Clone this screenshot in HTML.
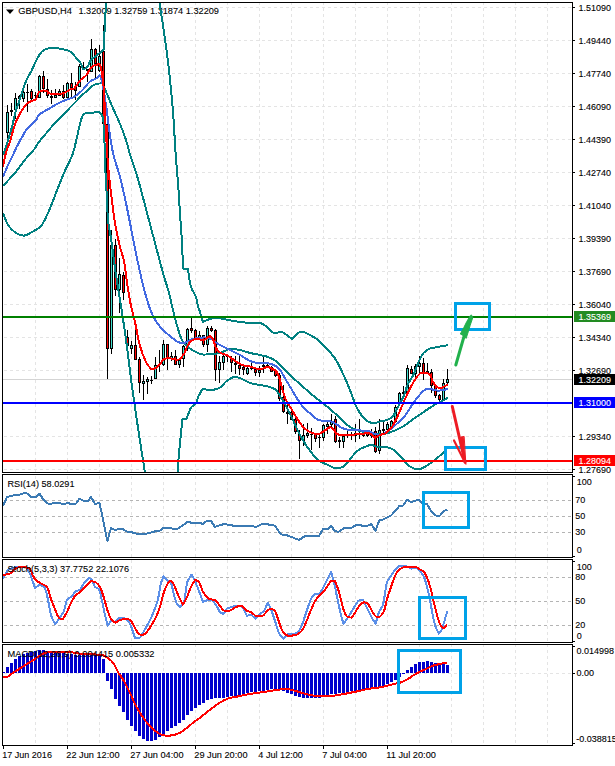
<!DOCTYPE html>
<html><head><meta charset="utf-8"><title>GBPUSD,H4</title>
<style>html,body{margin:0;padding:0;background:#fff}body{width:615px;height:766px;overflow:hidden}svg{display:block}text{font-family:"Liberation Sans",sans-serif;font-size:9px;fill:#000;stroke:#000;stroke-width:0.1px}.w{fill:#fff;stroke:#fff}</style></head><body>
<svg width="615" height="766" viewBox="0 0 615 766">
<rect width="615" height="766" fill="#fff"/>
<defs>
<clipPath id="c0"><rect x="3" y="3" width="569" height="469"/></clipPath>
<clipPath id="c1"><rect x="3" y="475" width="569" height="82"/></clipPath>
<clipPath id="c2"><rect x="3" y="560" width="569" height="82"/></clipPath>
<clipPath id="c3"><rect x="3" y="645" width="569" height="100"/></clipPath>
</defs>
<g stroke="#e4e4e4" stroke-width="1" stroke-dasharray="3 3" shape-rendering="crispEdges">
<line x1="35.5" y1="2" x2="35.5" y2="745"/>
<line x1="67.5" y1="2" x2="67.5" y2="745"/>
<line x1="99.5" y1="2" x2="99.5" y2="745"/>
<line x1="131.5" y1="2" x2="131.5" y2="745"/>
<line x1="163.5" y1="2" x2="163.5" y2="745"/>
<line x1="195.5" y1="2" x2="195.5" y2="745"/>
<line x1="227.5" y1="2" x2="227.5" y2="745"/>
<line x1="259.5" y1="2" x2="259.5" y2="745"/>
<line x1="291.5" y1="2" x2="291.5" y2="745"/>
<line x1="323.5" y1="2" x2="323.5" y2="745"/>
<line x1="355.5" y1="2" x2="355.5" y2="745"/>
<line x1="387.5" y1="2" x2="387.5" y2="745"/>
<line x1="419.5" y1="2" x2="419.5" y2="745"/>
<line x1="451.5" y1="2" x2="451.5" y2="745"/>
<line x1="483.5" y1="2" x2="483.5" y2="745"/>
<line x1="515.5" y1="2" x2="515.5" y2="745"/>
<line x1="547.5" y1="2" x2="547.5" y2="745"/>
<line x1="4" y1="7.5" x2="572" y2="7.5"/>
<line x1="4" y1="40.5" x2="572" y2="40.5"/>
<line x1="4" y1="73.5" x2="572" y2="73.5"/>
<line x1="4" y1="106.5" x2="572" y2="106.5"/>
<line x1="4" y1="139.5" x2="572" y2="139.5"/>
<line x1="4" y1="172.5" x2="572" y2="172.5"/>
<line x1="4" y1="205.5" x2="572" y2="205.5"/>
<line x1="4" y1="238.5" x2="572" y2="238.5"/>
<line x1="4" y1="271.5" x2="572" y2="271.5"/>
<line x1="4" y1="304.5" x2="572" y2="304.5"/>
<line x1="4" y1="337.5" x2="572" y2="337.5"/>
<line x1="4" y1="370.5" x2="572" y2="370.5"/>
<line x1="4" y1="403.5" x2="572" y2="403.5"/>
<line x1="4" y1="436.5" x2="572" y2="436.5"/>
<line x1="4" y1="469.5" x2="572" y2="469.5"/>
<line x1="4" y1="673.5" x2="572" y2="673.5"/>
</g>
<g stroke="#b4b4b4" stroke-width="1" stroke-dasharray="3 3" shape-rendering="crispEdges">
<line x1="4" y1="500.5" x2="572" y2="500.5"/>
<line x1="4" y1="516.5" x2="572" y2="516.5"/>
<line x1="4" y1="532.5" x2="572" y2="532.5"/>
<line x1="4" y1="577.5" x2="572" y2="577.5"/>
<line x1="4" y1="601.5" x2="572" y2="601.5"/>
<line x1="4" y1="625.5" x2="572" y2="625.5"/>
</g>
<path d="M6 9.5h8l-4 4.5z" fill="#000"/>
<text x="18.2" y="14" textLength="53.8" lengthAdjust="spacingAndGlyphs" style="font-size:9.4px">GBPUSD,H4</text>
<text x="78.4" y="14" textLength="140.6" lengthAdjust="spacingAndGlyphs" style="font-size:9.4px">1.32009 1.32759 1.31874 1.32209</text>
<g clip-path="url(#c0)">
<rect x="3" y="379" width="569" height="1" fill="#d4d4d4"/>
<g shape-rendering="crispEdges">
<rect x="7" y="105" width="1" height="33" fill="#000"/>
<rect x="6" y="112" width="3" height="21" fill="#000"/>
<rect x="7" y="113" width="1" height="19" fill="#40e0d0"/>
<rect x="11" y="103" width="1" height="13" fill="#000"/>
<rect x="10" y="110" width="3" height="2" fill="#000"/>
<rect x="15" y="93" width="1" height="26" fill="#000"/>
<rect x="14" y="98" width="3" height="12" fill="#000"/>
<rect x="15" y="99" width="1" height="10" fill="#40e0d0"/>
<rect x="19" y="95" width="1" height="14" fill="#000"/>
<rect x="18" y="96" width="3" height="3" fill="#000"/>
<rect x="19" y="97" width="1" height="1" fill="#40e0d0"/>
<rect x="23" y="86" width="1" height="16" fill="#000"/>
<rect x="22" y="92" width="3" height="7" fill="#000"/>
<rect x="23" y="93" width="1" height="5" fill="#40e0d0"/>
<rect x="27" y="84" width="1" height="28" fill="#000"/>
<rect x="26" y="92" width="3" height="1" fill="#000"/>
<rect x="31" y="89" width="1" height="11" fill="#000"/>
<rect x="30" y="91" width="3" height="8" fill="#000"/>
<rect x="31" y="92" width="1" height="6" fill="#ff0000"/>
<rect x="35" y="92" width="1" height="6" fill="#000"/>
<rect x="34" y="95" width="3" height="1" fill="#000"/>
<rect x="39" y="75" width="1" height="23" fill="#000"/>
<rect x="38" y="76" width="3" height="22" fill="#000"/>
<rect x="39" y="77" width="1" height="20" fill="#40e0d0"/>
<rect x="43" y="71" width="1" height="22" fill="#000"/>
<rect x="42" y="76" width="3" height="13" fill="#000"/>
<rect x="43" y="77" width="1" height="11" fill="#ff0000"/>
<rect x="47" y="79" width="1" height="19" fill="#000"/>
<rect x="46" y="89" width="3" height="7" fill="#000"/>
<rect x="47" y="90" width="1" height="5" fill="#ff0000"/>
<rect x="51" y="90" width="1" height="14" fill="#000"/>
<rect x="50" y="96" width="3" height="2" fill="#000"/>
<rect x="55" y="89" width="1" height="9" fill="#000"/>
<rect x="54" y="95" width="3" height="3" fill="#000"/>
<rect x="55" y="96" width="1" height="1" fill="#40e0d0"/>
<rect x="59" y="89" width="1" height="7" fill="#000"/>
<rect x="58" y="91" width="3" height="5" fill="#000"/>
<rect x="59" y="92" width="1" height="3" fill="#40e0d0"/>
<rect x="63" y="85" width="1" height="14" fill="#000"/>
<rect x="62" y="91" width="3" height="7" fill="#000"/>
<rect x="63" y="92" width="1" height="5" fill="#ff0000"/>
<rect x="67" y="82" width="1" height="17" fill="#000"/>
<rect x="66" y="83" width="3" height="15" fill="#000"/>
<rect x="67" y="84" width="1" height="13" fill="#40e0d0"/>
<rect x="71" y="73" width="1" height="25" fill="#000"/>
<rect x="70" y="83" width="3" height="5" fill="#000"/>
<rect x="71" y="84" width="1" height="3" fill="#ff0000"/>
<rect x="75" y="82" width="1" height="18" fill="#000"/>
<rect x="74" y="87" width="3" height="4" fill="#000"/>
<rect x="75" y="88" width="1" height="2" fill="#ff0000"/>
<rect x="79" y="64" width="1" height="23" fill="#000"/>
<rect x="78" y="66" width="3" height="21" fill="#000"/>
<rect x="79" y="67" width="1" height="19" fill="#40e0d0"/>
<rect x="83" y="62" width="1" height="8" fill="#000"/>
<rect x="82" y="67" width="3" height="1" fill="#000"/>
<rect x="87" y="69" width="1" height="13" fill="#000"/>
<rect x="86" y="69" width="3" height="2" fill="#000"/>
<rect x="91" y="39" width="1" height="33" fill="#000"/>
<rect x="90" y="49" width="3" height="23" fill="#000"/>
<rect x="91" y="50" width="1" height="21" fill="#40e0d0"/>
<rect x="95" y="48" width="1" height="30" fill="#000"/>
<rect x="94" y="49" width="3" height="15" fill="#000"/>
<rect x="95" y="50" width="1" height="13" fill="#ff0000"/>
<rect x="99" y="45" width="1" height="27" fill="#000"/>
<rect x="98" y="56" width="3" height="15" fill="#000"/>
<rect x="99" y="57" width="1" height="13" fill="#40e0d0"/>
<rect x="103" y="25" width="1" height="103" fill="#000"/>
<rect x="102" y="51" width="3" height="73" fill="#000"/>
<rect x="103" y="52" width="1" height="71" fill="#ff0000"/>
<rect x="107" y="120" width="1" height="259" fill="#000"/>
<rect x="106" y="124" width="3" height="225" fill="#000"/>
<rect x="107" y="125" width="1" height="223" fill="#ff0000"/>
<rect x="111" y="230" width="1" height="124" fill="#000"/>
<rect x="110" y="245" width="3" height="104" fill="#000"/>
<rect x="111" y="246" width="1" height="102" fill="#40e0d0"/>
<rect x="115" y="239" width="1" height="57" fill="#000"/>
<rect x="114" y="245" width="3" height="45" fill="#000"/>
<rect x="115" y="246" width="1" height="43" fill="#ff0000"/>
<rect x="119" y="258" width="1" height="55" fill="#000"/>
<rect x="118" y="274" width="3" height="16" fill="#000"/>
<rect x="119" y="275" width="1" height="14" fill="#40e0d0"/>
<rect x="123" y="272" width="1" height="28" fill="#000"/>
<rect x="122" y="275" width="3" height="18" fill="#000"/>
<rect x="123" y="276" width="1" height="16" fill="#ff0000"/>
<rect x="127" y="330" width="1" height="16" fill="#000"/>
<rect x="126" y="337" width="3" height="9" fill="#000"/>
<rect x="127" y="338" width="1" height="7" fill="#ff0000"/>
<rect x="131" y="341" width="1" height="13" fill="#000"/>
<rect x="130" y="345" width="3" height="4" fill="#000"/>
<rect x="131" y="346" width="1" height="2" fill="#40e0d0"/>
<rect x="135" y="330" width="1" height="30" fill="#000"/>
<rect x="134" y="345" width="3" height="15" fill="#000"/>
<rect x="135" y="346" width="1" height="13" fill="#ff0000"/>
<rect x="139" y="357" width="1" height="36" fill="#000"/>
<rect x="138" y="359" width="3" height="24" fill="#000"/>
<rect x="139" y="360" width="1" height="22" fill="#ff0000"/>
<rect x="143" y="375" width="1" height="25" fill="#000"/>
<rect x="142" y="381" width="3" height="3" fill="#000"/>
<rect x="143" y="382" width="1" height="1" fill="#40e0d0"/>
<rect x="147" y="377" width="1" height="17" fill="#000"/>
<rect x="146" y="379" width="3" height="3" fill="#000"/>
<rect x="147" y="380" width="1" height="1" fill="#40e0d0"/>
<rect x="151" y="376" width="1" height="8" fill="#000"/>
<rect x="150" y="380" width="3" height="1" fill="#000"/>
<rect x="155" y="357" width="1" height="22" fill="#000"/>
<rect x="154" y="365" width="3" height="14" fill="#000"/>
<rect x="155" y="366" width="1" height="12" fill="#40e0d0"/>
<rect x="159" y="350" width="1" height="22" fill="#000"/>
<rect x="158" y="364" width="3" height="1" fill="#000"/>
<rect x="163" y="340" width="1" height="26" fill="#000"/>
<rect x="162" y="344" width="3" height="21" fill="#000"/>
<rect x="163" y="345" width="1" height="19" fill="#40e0d0"/>
<rect x="167" y="344" width="1" height="26" fill="#000"/>
<rect x="166" y="344" width="3" height="15" fill="#000"/>
<rect x="167" y="345" width="1" height="13" fill="#ff0000"/>
<rect x="171" y="352" width="1" height="9" fill="#000"/>
<rect x="170" y="356" width="3" height="3" fill="#000"/>
<rect x="171" y="357" width="1" height="1" fill="#40e0d0"/>
<rect x="175" y="350" width="1" height="15" fill="#000"/>
<rect x="174" y="356" width="3" height="9" fill="#000"/>
<rect x="175" y="357" width="1" height="7" fill="#ff0000"/>
<rect x="179" y="359" width="1" height="9" fill="#000"/>
<rect x="178" y="360" width="3" height="5" fill="#000"/>
<rect x="179" y="361" width="1" height="3" fill="#40e0d0"/>
<rect x="183" y="345" width="1" height="22" fill="#000"/>
<rect x="182" y="346" width="3" height="13" fill="#000"/>
<rect x="183" y="347" width="1" height="11" fill="#40e0d0"/>
<rect x="187" y="328" width="1" height="23" fill="#000"/>
<rect x="186" y="329" width="3" height="17" fill="#000"/>
<rect x="187" y="330" width="1" height="15" fill="#40e0d0"/>
<rect x="191" y="318" width="1" height="15" fill="#000"/>
<rect x="190" y="328" width="3" height="3" fill="#000"/>
<rect x="191" y="329" width="1" height="1" fill="#ff0000"/>
<rect x="195" y="329" width="1" height="10" fill="#000"/>
<rect x="194" y="330" width="3" height="8" fill="#000"/>
<rect x="195" y="331" width="1" height="6" fill="#ff0000"/>
<rect x="199" y="331" width="1" height="8" fill="#000"/>
<rect x="198" y="335" width="3" height="3" fill="#000"/>
<rect x="199" y="336" width="1" height="1" fill="#40e0d0"/>
<rect x="203" y="335" width="1" height="12" fill="#000"/>
<rect x="202" y="335" width="3" height="10" fill="#000"/>
<rect x="203" y="336" width="1" height="8" fill="#ff0000"/>
<rect x="207" y="326" width="1" height="26" fill="#000"/>
<rect x="206" y="328" width="3" height="17" fill="#000"/>
<rect x="207" y="329" width="1" height="15" fill="#40e0d0"/>
<rect x="211" y="326" width="1" height="6" fill="#000"/>
<rect x="210" y="328" width="3" height="3" fill="#000"/>
<rect x="211" y="329" width="1" height="1" fill="#ff0000"/>
<rect x="215" y="329" width="1" height="52" fill="#000"/>
<rect x="214" y="330" width="3" height="40" fill="#000"/>
<rect x="215" y="331" width="1" height="38" fill="#ff0000"/>
<rect x="219" y="356" width="1" height="27" fill="#000"/>
<rect x="218" y="362" width="3" height="8" fill="#000"/>
<rect x="219" y="363" width="1" height="6" fill="#40e0d0"/>
<rect x="223" y="355" width="1" height="15" fill="#000"/>
<rect x="222" y="356" width="3" height="7" fill="#000"/>
<rect x="223" y="357" width="1" height="5" fill="#40e0d0"/>
<rect x="227" y="354" width="1" height="8" fill="#000"/>
<rect x="226" y="355" width="3" height="2" fill="#000"/>
<rect x="231" y="356" width="1" height="16" fill="#000"/>
<rect x="230" y="358" width="3" height="5" fill="#000"/>
<rect x="231" y="359" width="1" height="3" fill="#ff0000"/>
<rect x="235" y="356" width="1" height="18" fill="#000"/>
<rect x="234" y="363" width="3" height="2" fill="#000"/>
<rect x="239" y="356" width="1" height="19" fill="#000"/>
<rect x="238" y="365" width="3" height="4" fill="#000"/>
<rect x="239" y="366" width="1" height="2" fill="#ff0000"/>
<rect x="243" y="366" width="1" height="9" fill="#000"/>
<rect x="242" y="367" width="3" height="3" fill="#000"/>
<rect x="243" y="368" width="1" height="1" fill="#ff0000"/>
<rect x="247" y="367" width="1" height="8" fill="#000"/>
<rect x="246" y="368" width="3" height="6" fill="#000"/>
<rect x="247" y="369" width="1" height="4" fill="#40e0d0"/>
<rect x="251" y="362" width="1" height="8" fill="#000"/>
<rect x="250" y="368" width="3" height="1" fill="#000"/>
<rect x="255" y="368" width="1" height="8" fill="#000"/>
<rect x="254" y="369" width="3" height="4" fill="#000"/>
<rect x="255" y="370" width="1" height="2" fill="#ff0000"/>
<rect x="259" y="366" width="1" height="11" fill="#000"/>
<rect x="258" y="370" width="3" height="3" fill="#000"/>
<rect x="259" y="371" width="1" height="1" fill="#40e0d0"/>
<rect x="263" y="357" width="1" height="16" fill="#000"/>
<rect x="262" y="365" width="3" height="2" fill="#000"/>
<rect x="267" y="364" width="1" height="4" fill="#000"/>
<rect x="266" y="365" width="3" height="2" fill="#000"/>
<rect x="271" y="366" width="1" height="6" fill="#000"/>
<rect x="270" y="367" width="3" height="5" fill="#000"/>
<rect x="271" y="368" width="1" height="3" fill="#ff0000"/>
<rect x="275" y="370" width="1" height="7" fill="#000"/>
<rect x="274" y="371" width="3" height="5" fill="#000"/>
<rect x="275" y="372" width="1" height="3" fill="#ff0000"/>
<rect x="279" y="373" width="1" height="28" fill="#000"/>
<rect x="278" y="375" width="3" height="24" fill="#000"/>
<rect x="279" y="376" width="1" height="22" fill="#ff0000"/>
<rect x="283" y="385" width="1" height="28" fill="#000"/>
<rect x="282" y="397" width="3" height="15" fill="#000"/>
<rect x="283" y="398" width="1" height="13" fill="#ff0000"/>
<rect x="287" y="404" width="1" height="20" fill="#000"/>
<rect x="286" y="412" width="3" height="2" fill="#000"/>
<rect x="291" y="410" width="1" height="10" fill="#000"/>
<rect x="290" y="412" width="3" height="8" fill="#000"/>
<rect x="291" y="413" width="1" height="6" fill="#ff0000"/>
<rect x="295" y="418" width="1" height="16" fill="#000"/>
<rect x="294" y="419" width="3" height="13" fill="#000"/>
<rect x="295" y="420" width="1" height="11" fill="#ff0000"/>
<rect x="299" y="430" width="1" height="29" fill="#000"/>
<rect x="298" y="434" width="3" height="7" fill="#000"/>
<rect x="299" y="435" width="1" height="5" fill="#ff0000"/>
<rect x="303" y="424" width="1" height="22" fill="#000"/>
<rect x="302" y="435" width="3" height="6" fill="#000"/>
<rect x="303" y="436" width="1" height="4" fill="#40e0d0"/>
<rect x="307" y="423" width="1" height="15" fill="#000"/>
<rect x="306" y="433" width="3" height="3" fill="#000"/>
<rect x="307" y="434" width="1" height="1" fill="#40e0d0"/>
<rect x="311" y="428" width="1" height="22" fill="#000"/>
<rect x="310" y="434" width="3" height="1" fill="#000"/>
<rect x="315" y="433" width="1" height="9" fill="#000"/>
<rect x="314" y="434" width="3" height="5" fill="#000"/>
<rect x="315" y="435" width="1" height="3" fill="#ff0000"/>
<rect x="319" y="435" width="1" height="13" fill="#000"/>
<rect x="318" y="437" width="3" height="1" fill="#000"/>
<rect x="323" y="424" width="1" height="17" fill="#000"/>
<rect x="322" y="425" width="3" height="13" fill="#000"/>
<rect x="323" y="426" width="1" height="11" fill="#40e0d0"/>
<rect x="327" y="422" width="1" height="12" fill="#000"/>
<rect x="326" y="424" width="3" height="3" fill="#000"/>
<rect x="327" y="425" width="1" height="1" fill="#40e0d0"/>
<rect x="331" y="414" width="1" height="15" fill="#000"/>
<rect x="330" y="422" width="3" height="3" fill="#000"/>
<rect x="331" y="423" width="1" height="1" fill="#40e0d0"/>
<rect x="335" y="416" width="1" height="27" fill="#000"/>
<rect x="334" y="419" width="3" height="23" fill="#000"/>
<rect x="335" y="420" width="1" height="21" fill="#ff0000"/>
<rect x="339" y="437" width="1" height="11" fill="#000"/>
<rect x="338" y="440" width="3" height="2" fill="#000"/>
<rect x="343" y="435" width="1" height="13" fill="#000"/>
<rect x="342" y="436" width="3" height="6" fill="#000"/>
<rect x="343" y="437" width="1" height="4" fill="#40e0d0"/>
<rect x="347" y="431" width="1" height="7" fill="#000"/>
<rect x="346" y="435" width="3" height="1" fill="#000"/>
<rect x="351" y="432" width="1" height="8" fill="#000"/>
<rect x="350" y="435" width="3" height="1" fill="#000"/>
<rect x="355" y="424" width="1" height="18" fill="#000"/>
<rect x="354" y="433" width="3" height="3" fill="#000"/>
<rect x="355" y="434" width="1" height="1" fill="#ff0000"/>
<rect x="359" y="419" width="1" height="20" fill="#000"/>
<rect x="358" y="434" width="3" height="1" fill="#000"/>
<rect x="363" y="431" width="1" height="6" fill="#000"/>
<rect x="362" y="433" width="3" height="3" fill="#000"/>
<rect x="363" y="434" width="1" height="1" fill="#ff0000"/>
<rect x="367" y="431" width="1" height="6" fill="#000"/>
<rect x="366" y="433" width="3" height="3" fill="#000"/>
<rect x="367" y="434" width="1" height="1" fill="#ff0000"/>
<rect x="371" y="429" width="1" height="9" fill="#000"/>
<rect x="370" y="435" width="3" height="1" fill="#000"/>
<rect x="375" y="427" width="1" height="26" fill="#000"/>
<rect x="374" y="431" width="3" height="21" fill="#000"/>
<rect x="375" y="432" width="1" height="19" fill="#ff0000"/>
<rect x="379" y="419" width="1" height="35" fill="#000"/>
<rect x="378" y="430" width="3" height="21" fill="#000"/>
<rect x="379" y="431" width="1" height="19" fill="#40e0d0"/>
<rect x="383" y="422" width="1" height="11" fill="#000"/>
<rect x="382" y="429" width="3" height="2" fill="#000"/>
<rect x="387" y="422" width="1" height="9" fill="#000"/>
<rect x="386" y="424" width="3" height="6" fill="#000"/>
<rect x="387" y="425" width="1" height="4" fill="#40e0d0"/>
<rect x="391" y="420" width="1" height="8" fill="#000"/>
<rect x="390" y="421" width="3" height="6" fill="#000"/>
<rect x="391" y="422" width="1" height="4" fill="#40e0d0"/>
<rect x="395" y="405" width="1" height="18" fill="#000"/>
<rect x="394" y="407" width="3" height="15" fill="#000"/>
<rect x="395" y="408" width="1" height="13" fill="#40e0d0"/>
<rect x="399" y="392" width="1" height="12" fill="#000"/>
<rect x="398" y="393" width="3" height="11" fill="#000"/>
<rect x="399" y="394" width="1" height="9" fill="#40e0d0"/>
<rect x="403" y="386" width="1" height="8" fill="#000"/>
<rect x="402" y="392" width="3" height="2" fill="#000"/>
<rect x="407" y="365" width="1" height="31" fill="#000"/>
<rect x="406" y="368" width="3" height="25" fill="#000"/>
<rect x="407" y="369" width="1" height="23" fill="#40e0d0"/>
<rect x="411" y="366" width="1" height="8" fill="#000"/>
<rect x="410" y="369" width="3" height="5" fill="#000"/>
<rect x="411" y="370" width="1" height="3" fill="#ff0000"/>
<rect x="415" y="364" width="1" height="14" fill="#000"/>
<rect x="414" y="366" width="3" height="8" fill="#000"/>
<rect x="415" y="367" width="1" height="6" fill="#40e0d0"/>
<rect x="419" y="356" width="1" height="17" fill="#000"/>
<rect x="418" y="363" width="3" height="4" fill="#000"/>
<rect x="419" y="364" width="1" height="2" fill="#40e0d0"/>
<rect x="423" y="358" width="1" height="22" fill="#000"/>
<rect x="422" y="363" width="3" height="10" fill="#000"/>
<rect x="423" y="364" width="1" height="8" fill="#ff0000"/>
<rect x="427" y="363" width="1" height="10" fill="#000"/>
<rect x="426" y="371" width="3" height="2" fill="#000"/>
<rect x="431" y="369" width="1" height="24" fill="#000"/>
<rect x="430" y="372" width="3" height="14" fill="#000"/>
<rect x="431" y="373" width="1" height="12" fill="#ff0000"/>
<rect x="435" y="385" width="1" height="13" fill="#000"/>
<rect x="434" y="386" width="3" height="10" fill="#000"/>
<rect x="435" y="387" width="1" height="8" fill="#ff0000"/>
<rect x="439" y="394" width="1" height="7" fill="#000"/>
<rect x="438" y="395" width="3" height="5" fill="#000"/>
<rect x="439" y="396" width="1" height="3" fill="#ff0000"/>
<rect x="443" y="379" width="1" height="22" fill="#000"/>
<rect x="442" y="383" width="3" height="18" fill="#000"/>
<rect x="443" y="384" width="1" height="16" fill="#40e0d0"/>
<rect x="447" y="369" width="1" height="15" fill="#000"/>
<rect x="446" y="379" width="3" height="4" fill="#000"/>
<rect x="447" y="380" width="1" height="2" fill="#40e0d0"/>
</g>
<g fill="none" stroke-width="2" stroke-linejoin="round" stroke-linecap="butt" shape-rendering="crispEdges">
<path stroke="#008080" d="M3.0 155.0C3.6 153.5 4.5 151.5 5.0 150.0C6.2 146.3 7.7 141.3 8.8 137.5C9.9 133.8 11.5 128.8 12.5 125.0C13.4 121.7 14.1 117.1 15.0 113.8C16.0 110.4 17.7 105.9 18.8 102.5C20.1 98.4 21.8 92.9 23.2 88.8C24.2 85.8 25.7 81.7 27.0 78.8C28.1 76.4 30.1 73.6 31.3 71.3C33.1 67.7 35.1 62.6 37.0 59.0C38.3 56.6 40.0 53.4 42.0 51.5C43.5 50.1 46.0 49.0 48.0 48.5C50.3 47.9 53.6 47.9 56.0 48.0C57.8 48.1 60.2 48.9 62.0 49.2C63.5 49.5 65.6 49.5 67.0 50.0C68.6 50.6 70.7 51.8 72.0 53.0C73.7 54.6 75.5 57.2 77.0 59.0C78.1 60.2 79.8 61.6 80.6 63.0C81.6 64.8 83.0 69.4 83.0 69.4C83.0 69.4 86.1 68.4 87.0 67.4C88.6 65.5 89.4 62.0 91.0 60.0C92.2 58.5 94.5 57.2 96.0 56.0C97.8 54.5 100.2 52.5 102.0 51.0C102.6 50.5 103.9 50.1 104.0 49.3C104.5 44.0 104.0 31.5 104.0 31.5C104.0 31.5 105.0 31.0 105.0 31.0C105.0 31.0 104.7 18.4 105.0 13.0C105.0 12.6 106.0 12.4 106.0 12.0C106.3 9.0 106.0 5.0 106.0 2.0"/>
<path stroke="#008080" d="M159.3 2.0C160.7 11.0 162.7 23.0 164.0 32.0C165.6 43.4 167.7 58.6 169.0 70.0C170.4 82.6 172.0 99.4 173.0 112.0C174.0 124.3 174.7 140.7 175.6 153.0C176.2 162.0 177.3 174.0 178.0 183.0C178.7 192.0 179.4 204.0 180.0 213.0C180.6 222.0 181.5 234.0 182.0 243.0C182.4 250.7 183.0 268.6 183.0 268.6C183.0 268.6 188.0 269.0 188.0 269.0C188.0 269.0 189.5 281.7 191.0 287.0C191.9 290.2 194.8 293.9 196.0 297.0C197.0 299.6 197.3 303.3 198.0 306.0C198.5 307.8 199.4 310.2 200.0 312.0C200.9 315.0 203.0 322.0 203.0 322.0C203.0 322.0 207.8 319.6 210.0 319.0C212.3 318.4 215.6 317.9 218.0 318.0C221.1 318.2 225.0 319.5 228.0 320.0C231.6 320.7 236.4 321.5 240.0 322.0C243.6 322.4 248.4 322.8 252.0 323.0C254.4 323.1 257.7 322.5 260.0 323.0C262.0 323.4 264.4 324.8 266.0 326.0C268.6 327.9 271.0 331.9 274.0 333.0C276.3 333.8 279.6 331.5 282.0 332.0C284.1 332.5 286.2 334.8 288.0 336.0C289.2 336.9 292.0 339.0 292.0 339.0C292.0 339.0 296.0 334.5 298.0 333.0C299.0 332.2 300.7 331.5 302.0 331.6C303.9 331.8 306.3 333.1 308.0 334.0C311.1 335.6 315.3 337.8 318.0 340.0C321.3 342.7 325.2 346.8 328.0 350.0C330.6 352.9 334.0 356.7 336.0 360.0C338.8 364.6 341.7 371.1 344.0 376.0C345.9 380.1 348.3 385.8 350.0 390.0C351.9 394.8 353.9 401.3 356.0 406.0C357.5 409.2 359.9 413.2 362.0 416.0C363.5 418.0 365.9 420.4 368.0 421.6C369.6 422.5 372.2 423.0 374.0 423.0C375.8 423.0 378.2 422.0 380.0 421.6C382.4 421.0 385.7 420.6 388.0 419.6C389.7 418.9 391.8 417.4 393.0 416.0C394.6 414.2 395.9 411.1 397.0 409.0C398.0 407.2 399.1 404.8 400.0 403.0C401.0 401.1 402.7 398.6 403.5 396.6C405.0 393.1 406.1 388.0 407.7 384.5C409.0 381.7 411.5 378.4 412.9 375.7C414.2 373.2 415.4 369.6 416.5 367.0C417.4 364.9 418.5 362.0 419.5 360.0C420.7 357.7 422.2 354.4 424.0 352.5C425.5 350.9 428.0 349.4 430.0 348.6C432.3 347.7 435.6 347.5 438.0 347.0C440.1 346.6 442.9 345.9 445.0 345.6C445.9 345.5 447.1 345.5 448.0 345.4"/>
<path stroke="#008080" d="M3.0 186.0C4.8 184.1 7.2 181.5 9.0 179.5C11.0 177.3 13.8 174.6 15.6 172.3C18.7 168.5 22.3 163.0 25.4 159.2C26.8 157.5 28.9 155.5 30.3 153.9C31.6 152.5 33.3 150.6 34.4 149.0C35.7 147.1 37.2 144.4 38.5 142.5C39.6 141.0 41.3 139.1 42.5 137.6C43.7 136.1 45.4 134.2 46.6 132.8C47.8 131.3 49.5 129.4 50.7 127.9C51.9 126.4 53.4 124.4 54.7 123.0C56.2 121.3 58.4 119.3 60.0 117.7C61.8 115.9 64.2 113.6 66.0 111.8C67.8 109.9 70.2 107.4 72.0 105.5C73.5 104.0 75.5 102.0 77.0 100.5C78.0 99.5 79.1 98.0 80.1 97.0C82.2 95.0 85.1 92.5 87.2 90.6C88.7 89.2 90.5 87.0 92.2 85.8C93.6 84.9 95.7 84.1 97.3 83.7C98.8 83.4 102.3 83.5 102.3 83.5C102.3 83.5 103.9 86.6 104.5 88.0C106.8 93.4 109.7 100.6 112.0 106.0C114.3 111.4 117.8 118.5 120.0 124.0C122.0 128.7 124.4 135.1 126.0 140.0C127.3 143.8 128.4 149.1 129.6 153.0C132.0 160.8 135.7 171.1 138.0 179.0C140.6 187.9 143.6 200.0 146.0 209.0C148.7 219.2 152.3 232.8 155.0 243.0C157.4 252.0 160.5 264.0 163.0 273.0C164.7 279.0 167.4 287.0 169.0 293.0C170.1 296.9 171.1 302.1 172.0 306.0C173.2 310.8 174.6 317.3 176.0 322.0C177.6 327.5 179.5 334.9 182.0 340.0C183.2 342.5 186.0 345.1 188.0 347.0C189.6 348.5 192.1 350.0 194.0 351.0C196.3 352.2 199.4 354.0 202.0 354.4C205.0 354.9 209.0 354.2 212.0 354.0C214.4 353.8 217.7 353.6 220.0 353.0C223.1 352.1 226.8 349.5 230.0 349.0C233.0 348.6 237.0 349.4 240.0 350.0C243.1 350.6 247.0 352.2 250.0 353.0C253.0 353.7 257.0 354.3 260.0 355.0C262.4 355.5 265.7 356.1 268.0 357.0C270.5 357.9 273.9 359.4 276.0 361.0C278.7 363.0 281.6 366.6 284.0 369.0C286.4 371.4 289.5 374.7 292.0 377.0C294.3 379.2 297.6 381.9 300.0 384.0C303.0 386.7 306.9 390.4 310.0 393.0C312.9 395.5 317.0 398.6 320.0 401.0C323.0 403.4 327.1 406.5 330.0 409.0C333.1 411.6 337.0 415.3 340.0 418.0C343.0 420.7 346.6 424.8 350.0 427.0C352.7 428.8 356.9 430.1 360.0 431.0C362.9 431.9 367.0 432.5 370.0 433.0C373.0 433.5 377.0 434.4 380.0 434.4C382.4 434.4 385.7 433.6 388.0 433.0C390.5 432.3 393.7 431.0 396.0 430.0C398.5 428.9 401.7 427.4 404.0 426.0C406.5 424.4 409.6 421.8 412.0 420.0C414.4 418.3 417.6 416.1 420.0 414.5C422.4 412.9 425.6 410.6 428.0 409.0C430.4 407.4 433.5 405.4 436.0 404.0C438.3 402.7 441.6 401.3 444.0 400.0C445.2 399.3 446.8 398.3 448.0 397.6"/>
<path stroke="#008080" d="M3.0 213.0C4.5 216.6 5.9 221.7 8.0 225.0C9.8 227.8 13.2 231.1 16.0 233.0C18.1 234.4 21.5 235.8 24.0 235.6C26.6 235.4 29.7 233.3 32.0 232.0C34.8 230.4 38.9 228.5 41.0 226.0C43.9 222.6 46.2 217.0 48.0 213.0C50.7 207.1 53.6 199.0 56.0 193.0C58.4 187.0 61.5 178.9 64.0 173.0C66.6 166.9 71.0 159.3 73.0 153.0C75.8 144.5 77.7 132.7 80.0 124.0C80.7 121.2 81.6 117.5 83.0 115.0C83.5 114.1 84.9 113.2 86.0 113.0C88.3 112.5 91.6 112.8 94.0 112.5C95.3 112.3 98.3 111.5 98.3 111.5C98.3 111.5 102.1 114.8 102.7 116.8C103.9 120.8 103.8 126.4 104.0 130.6C104.4 137.0 104.6 145.6 104.8 152.0C105.0 158.3 105.2 166.7 105.5 173.0C105.9 181.1 106.6 191.9 107.0 200.0C107.3 206.0 107.4 214.0 108.0 220.0C108.3 223.8 109.4 228.8 110.0 232.5C110.6 236.2 111.5 241.2 112.0 245.0C112.5 248.6 113.0 253.4 113.5 257.0C114.2 262.4 115.2 269.6 116.0 275.0C116.7 279.5 117.7 285.5 118.4 290.0C119.7 298.1 121.5 308.9 122.7 317.0C124.1 326.0 125.8 338.0 127.0 347.0C128.2 355.7 129.5 367.3 130.6 376.0C131.4 382.0 132.5 390.0 133.4 396.0C134.8 405.6 136.6 418.4 138.0 428.0C139.4 437.6 141.5 450.4 143.0 460.0C143.6 463.9 144.4 469.1 145.0 473.0"/>
<path stroke="#008080" d="M177.5 473.0C177.7 469.4 178.0 464.6 178.3 461.0C178.8 455.6 179.5 448.4 180.0 443.0C180.7 435.8 182.4 419.0 182.4 419.0C182.4 419.0 186.6 418.5 186.6 418.5C186.6 418.5 188.7 412.9 189.7 410.5C190.2 409.4 190.7 407.9 191.5 407.0C192.5 405.9 194.7 405.3 195.5 404.0C196.9 401.8 197.5 398.3 198.6 396.0C199.7 393.7 202.7 388.7 202.7 388.7C202.7 388.7 207.8 390.3 210.0 390.3C212.5 390.3 215.7 389.3 218.0 388.5C219.3 388.0 220.9 386.9 222.0 386.0C223.4 384.8 224.6 382.7 226.0 381.5C227.1 380.6 228.8 379.7 230.0 379.0C231.2 378.3 232.7 377.1 234.0 377.0C235.8 376.8 238.3 377.4 240.0 378.0C243.1 379.2 246.8 381.9 250.0 383.0C252.9 384.0 257.0 384.4 260.0 385.0C263.0 385.6 267.1 386.1 270.0 387.0C271.9 387.6 274.5 388.7 276.0 390.0C277.6 391.4 278.9 394.2 280.0 396.0C281.9 399.0 284.3 402.9 286.0 406.0C287.9 409.5 290.3 414.4 292.0 418.0C294.5 423.1 297.3 430.0 300.0 435.0C302.2 439.0 305.3 444.3 308.0 448.0C310.7 451.8 314.4 457.0 318.0 460.0C320.6 462.2 325.0 463.5 328.0 465.0C329.8 465.9 332.1 467.3 334.0 467.8C335.4 468.2 337.4 468.2 338.8 468.0C340.3 467.8 342.4 467.3 343.7 466.4C345.4 465.3 347.2 463.1 348.5 461.5C350.1 459.6 351.8 456.8 353.4 455.0C354.7 453.4 356.6 451.4 358.3 450.2C360.1 448.9 362.8 447.7 364.8 446.9C366.7 446.1 369.3 445.0 371.3 445.0C373.4 445.0 375.9 446.7 378.0 447.0C380.4 447.3 383.6 446.6 386.0 447.0C388.5 447.5 391.9 448.5 394.0 450.0C396.8 451.9 399.7 455.5 402.0 458.0C403.9 460.0 405.9 463.2 408.0 465.0C409.6 466.4 412.0 467.7 414.0 468.4C415.7 469.0 418.2 469.4 420.0 469.0C422.6 468.4 425.7 466.4 428.0 465.0C430.5 463.4 433.7 460.9 436.0 459.0C438.5 457.0 441.6 454.1 444.0 452.0C444.6 451.4 445.4 450.6 446.0 450.0"/>
<path stroke="#4169e1" d="M3.0 177.0C4.5 173.4 6.4 168.6 8.0 165.0C9.0 162.8 10.6 160.1 11.6 158.0C12.6 155.8 13.9 152.9 14.9 150.7C15.8 148.7 17.1 146.0 18.1 144.1C19.3 141.9 20.9 139.0 22.2 136.8C23.4 134.7 24.9 131.8 26.3 129.9C27.5 128.3 29.6 126.5 31.1 125.0C32.6 123.5 34.7 121.8 36.0 120.2C37.0 118.9 37.5 116.7 38.5 115.5C39.5 114.3 41.2 113.2 42.5 112.3C43.7 111.5 45.4 110.7 46.6 110.0C47.9 109.3 49.7 108.3 51.0 107.5C53.3 106.2 56.4 104.2 58.8 103.0C61.3 101.8 64.9 100.4 67.5 99.4C69.4 98.6 72.2 98.1 74.0 97.0C76.6 95.4 79.8 92.7 82.0 90.6C84.6 88.1 87.2 83.9 90.0 81.5C91.5 80.2 94.3 79.6 96.0 78.5C97.2 77.7 99.8 75.4 99.8 75.4C99.8 75.4 101.4 78.9 101.8 80.5C102.4 82.9 102.9 86.1 103.3 88.5C103.8 91.0 104.4 94.4 104.8 97.0C105.5 101.5 106.4 107.5 107.0 112.0C107.6 116.8 108.3 123.2 109.0 128.0C110.1 135.5 111.3 145.6 113.0 153.0C114.6 160.3 118.1 169.7 120.0 177.0C122.0 184.7 124.3 195.2 126.0 203.0C127.9 212.0 130.2 224.0 132.0 233.0C133.8 242.0 136.1 254.0 138.0 263.0C139.7 270.8 142.0 281.2 144.0 289.0C145.3 294.2 147.3 301.0 149.0 306.0C150.3 309.7 152.1 314.6 154.0 318.0C156.0 321.6 159.3 326.0 162.0 329.0C164.1 331.4 167.5 334.0 170.0 336.0C172.3 337.9 175.3 340.7 178.0 342.0C179.6 342.8 182.2 343.3 184.0 343.0C186.0 342.7 188.1 340.7 190.0 340.0C192.3 339.2 195.6 338.4 198.0 338.0C200.4 337.6 203.6 337.3 206.0 337.6C207.9 337.8 210.3 338.6 212.0 339.5C214.0 340.6 216.1 342.8 218.0 344.0C219.1 344.7 220.8 345.4 222.0 346.0C224.4 347.2 227.6 348.8 230.0 350.0C233.0 351.5 237.1 353.4 240.0 355.0C243.1 356.7 246.8 359.6 250.0 361.0C252.3 362.0 255.5 362.7 258.0 363.0C260.4 363.3 263.6 362.7 266.0 363.0C268.5 363.3 271.8 363.9 274.0 365.0C276.1 366.0 278.5 368.2 280.0 370.0C282.2 372.7 284.2 377.0 286.0 380.0C287.8 383.0 290.2 387.0 292.0 390.0C293.8 393.0 296.1 397.1 298.0 400.0C299.7 402.5 302.0 405.8 304.0 408.0C306.2 410.3 309.6 412.9 312.0 415.0C313.8 416.5 315.9 418.9 318.0 420.0C319.3 420.7 321.5 420.5 323.0 420.6C325.1 420.8 328.0 420.5 330.0 421.0C331.9 421.5 334.3 423.0 336.0 424.0C337.9 425.1 340.0 427.1 342.0 428.0C344.3 429.0 347.5 429.7 350.0 430.0C353.0 430.4 357.0 430.2 360.0 430.4C363.0 430.6 367.1 430.9 370.0 431.6C371.9 432.1 374.1 433.9 376.0 434.4C377.8 434.8 380.3 434.9 382.0 434.4C384.0 433.8 386.3 432.2 388.0 431.0C390.7 429.1 394.0 426.2 396.5 424.0C399.1 421.7 402.5 418.7 404.7 416.0C407.4 412.6 410.2 407.5 412.7 404.0C414.4 401.5 416.8 398.3 418.7 396.0C420.3 394.1 422.5 391.5 424.5 390.0C425.4 389.3 426.9 388.8 428.0 388.7C429.5 388.6 431.5 389.3 433.0 389.6C434.5 389.9 436.5 390.5 438.0 390.6C439.5 390.7 441.5 390.2 443.0 390.0C444.5 389.8 446.5 389.3 448.0 389.0"/>
<path stroke="#ff0000" d="M3.0 167.0C3.6 163.8 4.3 159.6 5.0 156.5C5.6 153.9 6.6 150.5 7.5 148.0C8.2 146.1 9.4 143.6 10.0 141.7C10.8 139.1 11.6 135.5 12.4 132.8C13.1 130.3 14.0 127.0 14.9 124.6C15.7 122.4 17.0 119.4 18.1 117.3C19.2 115.1 20.8 112.1 22.2 110.0C23.5 108.0 25.3 105.2 27.0 103.5C28.1 102.5 30.0 101.6 31.3 101.0C32.5 100.4 34.7 100.4 35.6 99.4C37.1 97.7 37.4 94.3 38.8 92.5C39.6 91.5 41.3 90.8 42.5 90.6C43.6 90.4 45.2 90.6 46.3 91.0C47.5 91.5 48.7 93.1 50.0 93.5C51.8 94.0 54.4 93.8 56.3 93.8C58.2 93.8 60.7 93.8 62.5 93.5C63.7 93.3 65.2 92.5 66.3 91.9C67.5 91.3 68.8 89.9 70.0 89.4C71.1 88.9 73.0 89.2 74.0 88.5C75.2 87.6 76.1 85.7 77.0 84.5C78.2 83.0 79.6 80.9 81.0 79.5C82.4 78.1 84.9 76.9 86.2 75.4C87.4 74.1 88.2 71.9 89.2 70.4C90.0 69.2 91.0 67.3 92.2 66.4C93.2 65.6 95.1 65.4 96.3 64.9C97.2 64.6 99.3 63.8 99.3 63.8C99.3 63.8 100.5 66.3 100.8 67.4C101.4 70.1 101.9 73.8 102.3 76.5C102.7 79.2 103.2 82.8 103.5 85.5C103.8 88.9 104.1 93.5 104.3 97.0C104.7 105.4 105.1 116.6 105.5 125.0C105.9 132.5 106.5 142.5 107.0 150.0C107.4 156.0 107.9 164.0 108.5 170.0C109.1 176.9 110.2 186.1 111.0 193.0C112.1 202.0 113.5 214.0 115.0 223.0C116.2 230.3 118.3 239.8 120.0 247.0C121.0 251.3 123.2 256.7 124.0 261.0C125.3 267.5 126.0 276.4 127.0 283.0C128.1 289.9 129.6 299.1 131.0 306.0C132.0 310.8 133.9 317.2 135.0 322.0C136.6 329.2 138.0 338.9 140.0 346.0C141.4 350.9 143.8 357.4 146.0 362.0C147.1 364.3 151.0 369.0 151.0 369.0C151.0 369.0 154.7 368.7 156.0 368.0C157.5 367.2 158.9 365.3 160.0 364.0C161.3 362.6 162.3 359.9 164.0 359.0C165.6 358.1 168.2 358.3 170.0 358.4C171.8 358.5 174.2 359.5 176.0 359.6C177.2 359.7 179.0 359.7 180.0 359.0C181.6 357.9 183.0 355.7 184.0 354.0C185.5 351.4 186.5 347.5 188.0 345.0C188.9 343.4 190.4 341.3 192.0 340.4C193.6 339.4 196.2 339.0 198.0 339.0C199.6 339.0 201.4 340.7 203.0 340.5C204.4 340.3 205.8 338.8 207.0 338.0C207.9 337.4 210.0 336.0 210.0 336.0C210.0 336.0 212.4 337.9 213.0 339.0C214.3 341.5 214.7 345.5 216.0 348.0C216.8 349.6 218.5 351.6 220.0 352.6C222.0 353.9 225.2 354.3 227.3 355.4C229.6 356.7 232.4 359.0 234.6 360.5C236.8 361.9 239.6 363.9 242.0 364.9C244.1 365.7 247.1 365.9 249.3 366.4C251.5 367.0 254.3 368.2 256.6 368.6C258.3 368.9 260.7 368.9 262.5 368.6C263.9 368.4 265.5 367.1 266.9 367.1C268.7 367.1 271.1 368.0 272.7 368.8C274.2 369.6 276.2 371.1 277.1 372.5C278.4 374.5 279.3 377.7 280.0 380.0C280.7 382.4 281.3 385.6 282.0 388.0C283.1 391.6 284.4 396.5 286.0 400.0C287.4 403.2 290.2 407.0 292.0 410.0C293.8 413.0 296.1 417.1 298.0 420.0C299.7 422.5 301.9 425.9 304.0 428.0C305.5 429.5 308.1 431.0 310.0 432.0C311.7 432.8 314.1 433.7 316.0 434.0C317.2 434.2 318.9 433.9 320.0 433.5C321.3 433.0 322.8 431.8 324.0 431.0C325.8 429.8 330.0 427.0 330.0 427.0C330.0 427.0 332.2 428.2 333.0 429.0C334.4 430.4 335.4 432.9 337.0 434.0C338.3 434.8 340.5 434.9 342.0 435.0C344.4 435.2 347.6 435.1 350.0 435.0C353.0 434.8 357.0 434.2 360.0 434.0C363.0 433.8 367.1 432.8 370.0 433.6C371.9 434.1 375.0 438.0 375.0 438.0C375.0 438.0 378.4 435.7 380.0 435.0C381.7 434.2 384.5 434.1 386.0 433.0C388.3 431.3 390.9 428.4 392.5 426.0C394.7 422.6 396.9 417.7 398.6 414.0C400.5 409.9 402.7 404.2 404.6 400.0C406.4 396.1 408.7 390.8 410.7 387.0C412.3 384.0 414.6 380.2 416.5 377.5C417.4 376.2 418.6 374.3 420.0 373.6C421.6 372.8 424.2 372.7 426.0 373.0C427.3 373.2 429.2 373.9 430.0 375.0C431.4 376.8 431.8 380.0 433.0 382.0C434.0 383.7 435.5 385.8 437.0 387.0C438.0 387.7 439.8 388.2 441.0 388.0C442.3 387.8 443.8 386.6 445.0 386.0C445.9 385.5 447.1 384.9 448.0 384.4"/>
</g>
<rect x="3" y="316" width="569" height="2" fill="#008000"/>
<rect x="3" y="402" width="569" height="2" fill="#0000ff"/>
<rect x="3" y="460" width="569" height="2" fill="#ff0000"/>
</g>
<g clip-path="url(#c1)" fill="none" stroke-width="2" stroke-linejoin="round" shape-rendering="crispEdges">
<polyline stroke="#3b7ab3" points="3.0,506.0 7.0,497.0 12.0,495.6 20.0,494.6 26.0,492.6 31.0,497.0 36.0,497.0 39.4,493.6 43.0,499.0 48.0,503.6 56.0,503.4 59.0,502.6 64.0,504.6 67.0,503.0 70.0,503.6 76.0,503.6 79.4,498.6 84.0,501.0 88.0,501.0 91.0,497.0 95.0,504.0 99.4,503.0 102.0,514.0 105.0,530.0 107.4,541.0 111.0,528.0 115.0,530.0 119.0,529.0 123.0,529.0 126.0,531.4 131.0,532.0 136.0,533.6 147.0,533.6 154.0,531.6 160.0,530.6 164.0,527.6 170.0,527.6 173.0,529.0 177.0,529.0 182.0,526.0 188.0,521.6 192.0,523.0 200.0,523.0 203.0,524.0 207.0,520.6 211.0,521.0 215.0,527.0 220.0,525.0 225.0,524.0 229.0,525.0 236.0,526.0 252.0,526.0 256.0,527.0 262.0,524.0 267.0,524.0 270.0,525.0 275.0,525.6 279.0,532.0 282.0,534.6 288.0,535.6 294.0,538.0 299.0,540.0 305.0,536.0 319.0,536.0 323.0,529.0 328.0,529.0 331.0,525.6 335.0,531.4 339.0,531.6 344.0,528.0 352.0,527.6 356.0,525.0 360.0,525.0 363.0,526.0 368.0,525.6 371.4,524.0 375.4,531.0 379.4,520.0 383.0,519.6 391.0,515.6 396.0,510.0 399.4,506.0 403.0,505.6 407.0,499.6 411.0,502.0 415.0,501.0 418.4,499.6 422.0,503.0 427.0,504.0 431.0,511.0 436.0,515.6 440.0,515.6 443.6,511.0 447.4,509.6"/>
</g>
<g clip-path="url(#c2)" fill="none" stroke-width="2" stroke-linejoin="round" shape-rendering="crispEdges">
<path stroke="#5b8fe8" d="M3.0 579.0C4.0 577.2 6.7 571.6 8.0 570.0C8.6 569.3 11.2 568.3 12.0 568.0C13.2 567.6 16.8 566.7 18.0 566.6C19.6 566.5 26.0 567.0 26.0 567.0C26.0 567.0 29.4 572.5 30.0 574.0C31.2 576.7 35.0 588.0 35.0 588.0C35.0 588.0 39.0 585.0 39.0 585.0C39.0 585.0 43.3 586.2 44.0 587.0C45.1 588.3 46.6 593.3 47.0 595.0C48.0 599.0 49.9 611.1 51.0 615.0C51.5 616.9 55.0 624.0 55.0 624.0C55.0 624.0 58.3 620.1 59.0 619.0C60.1 617.4 63.3 612.7 64.0 611.0C64.9 608.9 65.9 602.0 67.0 600.0C67.6 598.9 71.1 596.9 72.0 596.0C72.9 595.1 75.0 591.8 76.0 591.0C76.7 590.5 79.4 590.6 80.0 590.0C81.1 588.9 83.0 584.3 84.0 583.0C84.8 581.9 89.0 578.0 89.0 578.0C89.0 578.0 91.6 579.4 92.0 580.0C92.8 581.3 94.1 585.8 95.0 587.0C95.5 587.7 98.6 588.2 99.0 589.0C100.1 591.2 101.4 598.6 102.0 601.0C102.6 603.8 104.4 612.2 105.0 615.0C105.5 617.1 107.6 625.6 107.6 625.6C107.6 625.6 111.0 621.0 111.0 621.0C111.0 621.0 115.0 622.0 115.0 622.0C115.0 622.0 118.0 618.5 119.0 618.0C119.9 617.6 123.1 617.6 124.0 618.0C125.2 618.5 128.2 621.0 129.0 622.0C129.9 623.2 131.5 627.6 132.0 629.0C132.7 630.8 135.0 638.0 135.0 638.0C135.0 638.0 139.2 638.2 140.0 637.6C141.2 636.7 143.2 632.3 144.0 631.0C145.0 629.2 148.1 623.8 149.0 622.0C150.1 619.8 153.1 613.3 154.0 611.0C154.9 608.6 157.4 601.5 158.0 599.0C158.8 595.8 160.2 586.2 161.0 583.0C161.4 581.5 163.6 576.0 163.6 576.0C163.6 576.0 166.2 579.3 167.0 580.0C167.7 580.7 170.6 582.1 171.0 583.0C172.0 585.2 173.3 592.6 174.0 595.0C174.5 596.8 176.2 602.3 177.0 604.0C177.4 604.8 180.0 607.0 180.0 607.0C180.0 607.0 183.7 604.1 184.0 603.0C185.1 599.1 186.0 586.9 187.0 583.0C187.5 581.1 191.6 574.6 191.6 574.6C191.6 574.6 194.4 579.7 195.0 581.0C195.9 583.0 198.2 589.0 199.0 591.0C199.8 593.2 203.0 602.0 203.0 602.0C203.0 602.0 207.0 600.3 208.0 600.0C208.8 599.8 212.0 599.6 212.0 599.6C212.0 599.6 215.3 603.9 216.0 605.0C216.9 606.4 219.0 610.8 220.0 612.0C220.5 612.6 223.6 614.0 223.6 614.0C223.6 614.0 226.0 609.4 227.0 608.6C227.8 607.9 231.0 607.3 232.0 607.0C232.8 606.7 235.2 605.6 236.0 605.6C237.2 605.6 241.1 606.2 242.0 607.0C243.5 608.4 247.0 616.0 247.0 616.0C247.0 616.0 250.2 614.7 251.0 615.0C252.2 615.4 255.6 619.0 255.6 619.0C255.6 619.0 259.0 614.9 260.0 614.0C260.7 613.3 263.4 611.8 264.0 611.0C265.0 609.5 267.6 602.6 267.6 602.6C267.6 602.6 270.5 607.7 271.0 609.0C271.9 611.3 274.2 618.6 275.0 621.0C275.8 623.4 277.9 630.7 279.0 633.0C279.7 634.4 283.6 639.0 283.6 639.0C283.6 639.0 286.8 634.6 288.0 634.0C288.9 633.5 292.0 634.2 293.0 634.0C294.1 633.8 297.2 632.8 298.0 632.0C299.1 630.9 301.4 626.5 302.0 625.0C303.0 622.7 305.2 615.4 306.0 613.0C307.0 610.2 309.7 601.7 311.0 599.0C311.5 597.8 313.9 594.7 315.0 594.0C315.7 593.6 318.4 594.5 319.0 594.0C320.2 593.1 322.3 589.3 323.0 588.0C323.9 586.4 326.2 581.6 327.0 580.0C327.8 578.4 331.0 572.0 331.0 572.0C331.0 572.0 333.5 580.0 334.0 582.0C334.7 585.0 336.4 594.0 337.0 597.0C337.8 600.6 340.1 611.4 341.0 615.0C341.4 616.8 343.6 624.0 343.6 624.0C343.6 624.0 346.3 620.0 347.0 619.0C348.0 617.4 351.0 612.6 352.0 611.0C352.8 609.6 355.1 605.3 356.0 604.0C356.6 603.1 358.7 600.5 359.6 600.0C360.2 599.7 363.0 600.0 363.0 600.0C363.0 600.0 366.2 606.4 367.0 608.0C368.0 610.0 370.9 616.0 372.0 618.0C372.7 619.2 375.6 624.0 375.6 624.0C375.6 624.0 378.1 614.3 379.0 612.0C379.6 610.5 382.6 606.6 383.0 605.0C384.2 600.5 385.8 586.5 387.0 582.0C387.4 580.6 390.2 577.2 391.0 576.0C391.8 574.8 394.1 571.1 395.0 570.0C395.7 569.1 397.9 566.4 399.0 566.0C400.3 565.5 404.6 565.7 406.0 566.0C407.1 566.2 409.9 568.4 411.0 568.6C412.0 568.8 415.0 567.7 416.0 568.0C417.0 568.3 419.3 570.3 420.0 571.0C421.0 572.1 423.4 575.7 424.0 577.0C424.8 578.9 426.5 585.0 427.0 587.0C427.7 589.6 429.5 597.4 430.0 600.0C430.7 603.4 432.3 613.6 433.0 617.0C433.5 619.2 435.2 625.9 436.0 628.0C436.4 629.2 439.0 633.6 439.0 633.6C439.0 633.6 441.6 630.0 442.0 629.0C442.8 627.1 444.4 621.0 445.0 619.0C445.5 617.4 446.9 612.6 447.4 611.0"/>
<path stroke="#ff0000" d="M3.0 575.0C5.1 574.6 8.1 574.6 10.0 573.6C12.2 572.4 13.7 568.9 16.0 568.0C18.8 566.9 23.0 567.2 26.0 567.4C27.3 567.5 29.2 568.0 30.0 569.0C31.4 570.8 31.8 574.0 33.0 576.0C34.0 577.7 35.6 579.7 37.0 581.0C38.3 582.2 40.5 583.1 42.0 584.0C43.5 584.9 46.1 585.5 47.0 587.0C49.0 590.3 49.7 595.4 51.0 599.0C52.1 602.0 53.7 606.0 55.0 609.0C56.1 611.7 57.2 615.7 59.0 618.0C59.8 619.0 63.0 619.0 63.0 619.0C63.0 619.0 65.9 614.2 67.0 612.0C68.3 609.4 69.7 605.6 71.0 603.0C72.1 600.8 73.5 597.9 75.0 596.0C76.2 594.5 78.6 593.3 80.0 592.0C81.9 590.3 84.2 587.8 86.0 586.0C87.5 584.5 91.0 581.0 91.0 581.0C91.0 581.0 94.7 581.7 96.0 582.6C97.5 583.6 99.2 585.4 100.0 587.0C101.6 590.1 102.9 594.7 104.0 598.0C105.3 602.2 106.5 607.9 108.0 612.0C108.9 614.7 110.4 618.2 112.0 620.5C112.7 621.5 115.6 622.6 115.6 622.6C115.6 622.6 118.6 620.5 120.0 620.0C121.4 619.5 123.5 619.0 125.0 619.0C126.5 619.0 128.8 619.1 130.0 620.0C131.7 621.3 132.9 624.2 134.0 626.0C135.3 628.1 136.4 631.2 138.0 633.0C138.9 634.1 142.0 635.4 142.0 635.4C142.0 635.4 145.0 634.0 146.0 633.0C147.8 631.1 149.6 628.2 151.0 626.0C152.6 623.4 154.7 619.8 156.0 617.0C157.4 614.1 159.0 610.1 160.0 607.0C161.4 602.6 162.5 596.4 164.0 592.0C164.9 589.2 166.5 585.5 168.0 583.0C168.6 582.0 171.0 580.6 171.0 580.6C171.0 580.6 173.3 583.6 174.0 585.0C175.7 588.5 177.4 593.5 179.0 597.0C180.1 599.3 183.0 604.6 183.0 604.6C183.0 604.6 185.9 599.3 187.0 597.0C188.3 594.1 189.6 589.9 191.0 587.0C192.0 584.8 195.0 580.0 195.0 580.0C195.0 580.0 198.3 580.9 199.0 582.0C200.8 584.7 201.4 589.2 203.0 592.0C204.4 594.4 206.7 597.5 209.0 599.0C210.5 600.0 213.5 599.0 215.0 600.0C217.0 601.3 218.5 604.2 220.0 606.0C221.2 607.4 222.3 609.8 224.0 610.6C225.6 611.4 228.3 611.1 230.0 610.6C232.0 610.0 234.0 607.8 236.0 607.0C237.7 606.3 240.3 605.4 242.0 606.0C244.0 606.7 245.2 609.8 247.0 611.0C248.0 611.7 249.9 611.4 251.0 612.0C252.7 612.9 254.2 615.4 256.0 616.0C258.0 616.6 261.1 616.5 263.0 615.6C264.7 614.8 265.6 612.2 267.0 611.0C268.0 610.1 269.7 609.0 271.0 609.0C272.3 609.0 274.2 609.9 275.0 611.0C276.5 613.1 277.1 616.6 278.0 619.0C279.2 622.3 280.4 626.9 282.0 630.0C282.9 631.7 284.3 634.1 286.0 635.0C287.6 635.9 290.2 635.8 292.0 635.6C293.9 635.4 296.4 635.0 298.0 634.0C299.8 632.9 301.9 630.8 303.0 629.0C304.6 626.5 305.9 622.7 307.0 620.0C308.3 617.0 309.7 613.0 311.0 610.0C312.1 607.3 313.5 603.6 315.0 601.0C316.0 599.3 317.7 597.4 319.0 596.0C320.1 594.7 321.9 593.3 323.0 592.0C324.3 590.6 325.9 588.6 327.0 587.0C328.3 585.1 331.0 580.6 331.0 580.6C331.0 580.6 335.0 581.0 335.0 581.0C335.0 581.0 338.0 588.6 339.0 592.0C340.4 596.7 341.5 603.3 343.0 608.0C343.9 610.7 345.1 614.5 347.0 616.6C348.0 617.7 352.0 617.6 352.0 617.6C352.0 617.6 354.8 613.0 356.0 611.0C357.2 609.2 358.6 606.6 360.0 605.0C361.0 603.9 364.0 602.0 364.0 602.0C364.0 602.0 367.1 603.0 368.0 604.0C369.6 605.8 370.7 609.0 372.0 611.0C373.1 612.7 374.3 615.4 376.0 616.6C377.0 617.3 379.0 617.3 380.0 616.6C381.7 615.4 383.2 612.9 384.0 611.0C385.4 607.6 386.0 602.6 387.0 599.0C388.1 595.4 389.8 590.6 391.0 587.0C392.2 583.7 393.5 579.2 395.0 576.0C395.9 574.0 397.5 571.5 399.0 570.0C400.2 568.8 402.3 567.5 404.0 567.0C406.0 566.4 408.9 566.6 411.0 566.6C412.5 566.6 414.6 566.6 416.0 567.0C417.3 567.4 418.8 568.7 420.0 569.4C421.2 570.2 423.1 570.9 424.0 572.0C425.6 574.1 427.0 577.5 428.0 580.0C429.1 582.9 430.2 587.0 431.0 590.0C432.0 593.9 433.1 599.1 434.0 603.0C434.9 606.6 436.0 611.4 437.0 615.0C437.8 617.7 438.9 621.4 440.0 624.0C440.7 625.5 443.0 628.6 443.0 628.6C443.0 628.6 445.8 626.1 447.0 625.0"/>
</g>
<g clip-path="url(#c3)">
<g fill="#0000cd" shape-rendering="crispEdges">
<rect x="2" y="672" width="3" height="1"/>
<rect x="6" y="667" width="3" height="6"/>
<rect x="10" y="663" width="3" height="10"/>
<rect x="14" y="659" width="3" height="14"/>
<rect x="18" y="656" width="3" height="17"/>
<rect x="22" y="654" width="3" height="19"/>
<rect x="26" y="653" width="3" height="20"/>
<rect x="30" y="652" width="3" height="21"/>
<rect x="34" y="651" width="3" height="22"/>
<rect x="38" y="650" width="3" height="23"/>
<rect x="42" y="650" width="3" height="23"/>
<rect x="46" y="651" width="3" height="22"/>
<rect x="50" y="651" width="3" height="22"/>
<rect x="54" y="652" width="3" height="21"/>
<rect x="58" y="653" width="3" height="20"/>
<rect x="62" y="653" width="3" height="20"/>
<rect x="66" y="654" width="3" height="19"/>
<rect x="70" y="654" width="3" height="19"/>
<rect x="74" y="655" width="3" height="18"/>
<rect x="78" y="655" width="3" height="18"/>
<rect x="82" y="655" width="3" height="18"/>
<rect x="86" y="654" width="3" height="19"/>
<rect x="90" y="654" width="3" height="19"/>
<rect x="94" y="654" width="3" height="19"/>
<rect x="98" y="655" width="3" height="18"/>
<rect x="102" y="659" width="3" height="14"/>
<rect x="106" y="673" width="3" height="8"/>
<rect x="110" y="673" width="3" height="16"/>
<rect x="114" y="673" width="3" height="26"/>
<rect x="118" y="673" width="3" height="33"/>
<rect x="122" y="673" width="3" height="39"/>
<rect x="126" y="673" width="3" height="47"/>
<rect x="130" y="673" width="3" height="53"/>
<rect x="134" y="673" width="3" height="58"/>
<rect x="138" y="673" width="3" height="63"/>
<rect x="142" y="673" width="3" height="66"/>
<rect x="146" y="673" width="3" height="68"/>
<rect x="150" y="673" width="3" height="68"/>
<rect x="154" y="673" width="3" height="67"/>
<rect x="158" y="673" width="3" height="64"/>
<rect x="162" y="673" width="3" height="61"/>
<rect x="166" y="673" width="3" height="58"/>
<rect x="170" y="673" width="3" height="55"/>
<rect x="174" y="673" width="3" height="53"/>
<rect x="178" y="673" width="3" height="50"/>
<rect x="182" y="673" width="3" height="47"/>
<rect x="186" y="673" width="3" height="42"/>
<rect x="190" y="673" width="3" height="38"/>
<rect x="194" y="673" width="3" height="35"/>
<rect x="198" y="673" width="3" height="32"/>
<rect x="202" y="673" width="3" height="30"/>
<rect x="206" y="673" width="3" height="27"/>
<rect x="210" y="673" width="3" height="26"/>
<rect x="214" y="673" width="3" height="25"/>
<rect x="218" y="673" width="3" height="25"/>
<rect x="222" y="673" width="3" height="25"/>
<rect x="226" y="673" width="3" height="24"/>
<rect x="230" y="673" width="3" height="23"/>
<rect x="234" y="673" width="3" height="23"/>
<rect x="238" y="673" width="3" height="22"/>
<rect x="242" y="673" width="3" height="21"/>
<rect x="246" y="673" width="3" height="20"/>
<rect x="250" y="673" width="3" height="19"/>
<rect x="254" y="673" width="3" height="19"/>
<rect x="258" y="673" width="3" height="18"/>
<rect x="262" y="673" width="3" height="18"/>
<rect x="266" y="673" width="3" height="17"/>
<rect x="270" y="673" width="3" height="16"/>
<rect x="274" y="673" width="3" height="16"/>
<rect x="278" y="673" width="3" height="17"/>
<rect x="282" y="673" width="3" height="18"/>
<rect x="286" y="673" width="3" height="20"/>
<rect x="290" y="673" width="3" height="21"/>
<rect x="294" y="673" width="3" height="23"/>
<rect x="298" y="673" width="3" height="24"/>
<rect x="302" y="673" width="3" height="25"/>
<rect x="306" y="673" width="3" height="25"/>
<rect x="310" y="673" width="3" height="25"/>
<rect x="314" y="673" width="3" height="25"/>
<rect x="318" y="673" width="3" height="25"/>
<rect x="322" y="673" width="3" height="23"/>
<rect x="326" y="673" width="3" height="23"/>
<rect x="330" y="673" width="3" height="21"/>
<rect x="334" y="673" width="3" height="21"/>
<rect x="338" y="673" width="3" height="20"/>
<rect x="342" y="673" width="3" height="20"/>
<rect x="346" y="673" width="3" height="19"/>
<rect x="350" y="673" width="3" height="18"/>
<rect x="354" y="673" width="3" height="18"/>
<rect x="358" y="673" width="3" height="17"/>
<rect x="362" y="673" width="3" height="16"/>
<rect x="366" y="673" width="3" height="16"/>
<rect x="370" y="673" width="3" height="15"/>
<rect x="374" y="673" width="3" height="14"/>
<rect x="378" y="673" width="3" height="14"/>
<rect x="382" y="673" width="3" height="13"/>
<rect x="386" y="673" width="3" height="11"/>
<rect x="390" y="673" width="3" height="9"/>
<rect x="394" y="673" width="3" height="7"/>
<rect x="398" y="673" width="3" height="4"/>
<rect x="402" y="673" width="3" height="1"/>
<rect x="406" y="670" width="3" height="3"/>
<rect x="410" y="667" width="3" height="6"/>
<rect x="414" y="664" width="3" height="9"/>
<rect x="418" y="662" width="3" height="11"/>
<rect x="422" y="662" width="3" height="11"/>
<rect x="426" y="661" width="3" height="12"/>
<rect x="430" y="662" width="3" height="11"/>
<rect x="434" y="663" width="3" height="10"/>
<rect x="438" y="664" width="3" height="9"/>
<rect x="442" y="664" width="3" height="9"/>
<rect x="446" y="665" width="3" height="8"/>
</g>
<path fill="none" stroke="#ff0000" stroke-width="2" stroke-linejoin="round" shape-rendering="crispEdges" d="M3.0 677.0C4.3 677.0 6.1 677.4 7.3 677.0C8.5 676.6 9.6 675.2 10.6 674.5C12.3 673.3 14.6 671.9 16.3 670.8C18.7 669.2 21.9 667.0 24.4 665.5C26.8 664.0 30.1 662.2 32.5 660.7C34.5 659.4 37.0 657.5 39.0 656.2C40.4 655.3 42.3 653.9 43.9 653.3C45.6 652.6 48.1 652.2 50.0 652.1C54.8 651.7 61.2 651.4 66.0 651.6C70.2 651.8 75.8 653.1 80.0 653.6C83.6 654.0 88.4 654.2 92.0 654.4C95.0 654.6 99.1 654.3 102.0 655.0C104.0 655.4 106.4 656.8 108.0 658.0C110.0 659.5 112.5 661.9 114.0 664.0C115.6 666.2 116.6 669.7 118.0 672.0C119.6 674.8 122.4 678.2 124.0 681.0C126.0 684.5 128.3 689.4 130.0 693.0C131.9 696.9 134.0 702.2 136.0 706.0C137.6 709.1 140.1 713.1 142.0 716.0C143.7 718.5 146.0 721.7 148.0 724.0C149.7 725.9 152.0 728.4 154.0 730.0C155.7 731.4 158.1 733.0 160.0 734.0C161.4 734.7 163.4 735.4 165.0 735.6C166.5 735.8 168.5 735.8 170.0 735.6C171.8 735.4 174.3 735.0 176.0 734.4C177.9 733.8 180.3 732.6 182.0 731.6C183.9 730.4 186.2 728.4 188.0 727.0C189.8 725.5 192.1 723.4 194.0 722.0C195.7 720.7 198.2 719.1 200.0 717.8C201.8 716.4 204.2 714.4 206.0 713.0C207.8 711.6 210.1 709.6 212.0 708.2C214.4 706.5 217.5 704.1 220.0 702.6C222.3 701.2 225.5 699.4 228.0 698.6C231.5 697.4 236.4 696.8 240.0 696.0C243.6 695.3 248.4 694.2 252.0 693.6C255.6 693.0 260.4 692.5 264.0 692.0C267.6 691.5 272.4 690.5 276.0 690.0C279.0 689.6 283.0 688.9 286.0 689.0C288.4 689.1 291.6 689.8 294.0 690.4C296.4 691.0 299.6 692.3 302.0 693.0C304.4 693.7 307.6 694.5 310.0 695.0C312.1 695.4 314.9 695.8 317.0 696.0C319.1 696.1 321.9 696.0 324.0 696.0C327.0 695.9 331.0 695.9 334.0 695.6C337.0 695.3 341.0 694.5 344.0 694.0C347.6 693.3 352.4 692.3 356.0 691.6C359.6 690.8 364.4 689.6 368.0 689.0C371.6 688.4 376.4 687.9 380.0 687.3C382.4 686.9 385.6 686.2 388.0 685.6C390.4 685.0 393.6 684.2 396.0 683.6C397.8 683.1 400.3 682.7 402.0 682.0C403.9 681.3 406.3 680.0 408.0 679.0C409.9 677.9 412.2 676.1 414.0 675.0C415.8 673.9 418.1 672.5 420.0 671.6C421.8 670.7 424.2 669.8 426.0 669.0C427.8 668.1 430.1 666.7 432.0 666.0C433.7 665.3 436.2 664.9 438.0 664.4C439.8 664.0 442.2 663.3 444.0 663.0C445.0 662.8 446.4 662.7 447.4 662.6"/>
</g>
<text x="7.5" y="487" textLength="67" lengthAdjust="spacingAndGlyphs" style="font-size:9.4px">RSI(14) 58.0291</text>
<text x="7.5" y="572" textLength="121.5" lengthAdjust="spacingAndGlyphs" style="font-size:9.4px">Stoch(5,3,3) 37.7752 22.1076</text>
<text x="7.5" y="656.8" textLength="147" lengthAdjust="spacingAndGlyphs" style="font-size:9.4px">MACD(12,26,9) 0.004415 0.005332</text>
<g fill="#fff" shape-rendering="crispEdges"><rect x="0" y="473" width="574" height="1"/><rect x="0" y="558" width="574" height="1"/><rect x="0" y="643" width="574" height="1"/></g>
<g fill="#000" shape-rendering="crispEdges">
<rect x="2" y="2" width="571" height="1"/>
<rect x="2" y="472" width="571" height="1"/>
<rect x="2" y="2" width="1" height="471"/>
<rect x="572" y="2" width="1" height="471"/>
<rect x="2" y="474" width="571" height="1"/>
<rect x="2" y="557" width="571" height="1"/>
<rect x="2" y="474" width="1" height="84"/>
<rect x="572" y="474" width="1" height="84"/>
<rect x="2" y="559" width="571" height="1"/>
<rect x="2" y="642" width="571" height="1"/>
<rect x="2" y="559" width="1" height="84"/>
<rect x="572" y="559" width="1" height="84"/>
<rect x="2" y="644" width="571" height="1"/>
<rect x="2" y="745" width="571" height="1"/>
<rect x="2" y="644" width="1" height="102"/>
<rect x="572" y="644" width="1" height="102"/>
<rect x="573" y="7" width="2" height="1"/>
<rect x="573" y="40" width="2" height="1"/>
<rect x="573" y="73" width="2" height="1"/>
<rect x="573" y="106" width="2" height="1"/>
<rect x="573" y="139" width="2" height="1"/>
<rect x="573" y="172" width="2" height="1"/>
<rect x="573" y="205" width="2" height="1"/>
<rect x="573" y="238" width="2" height="1"/>
<rect x="573" y="271" width="2" height="1"/>
<rect x="573" y="304" width="2" height="1"/>
<rect x="573" y="337" width="2" height="1"/>
<rect x="573" y="370" width="2" height="1"/>
<rect x="573" y="436" width="2" height="1"/>
<rect x="573" y="469" width="2" height="1"/>
<rect x="573" y="476" width="2" height="1"/>
<rect x="573" y="556" width="2" height="1"/>
<rect x="573" y="561" width="2" height="1"/>
<rect x="573" y="641" width="2" height="1"/>
<rect x="573" y="646" width="2" height="1"/>
<rect x="573" y="673" width="2" height="1"/>
<rect x="573" y="743" width="2" height="1"/>
<rect x="3" y="746" width="1" height="3"/>
<rect x="67" y="746" width="1" height="3"/>
<rect x="131" y="746" width="1" height="3"/>
<rect x="195" y="746" width="1" height="3"/>
<rect x="259" y="746" width="1" height="3"/>
<rect x="323" y="746" width="1" height="3"/>
<rect x="387" y="746" width="1" height="3"/>
</g>
<text x="578.5" y="10.5" textLength="32.4" lengthAdjust="spacingAndGlyphs">1.51090</text>
<text x="578.5" y="43.5" textLength="32.4" lengthAdjust="spacingAndGlyphs">1.49440</text>
<text x="578.5" y="76.5" textLength="32.4" lengthAdjust="spacingAndGlyphs">1.47740</text>
<text x="578.5" y="109.5" textLength="32.4" lengthAdjust="spacingAndGlyphs">1.46090</text>
<text x="578.5" y="142.5" textLength="32.4" lengthAdjust="spacingAndGlyphs">1.44390</text>
<text x="578.5" y="175.5" textLength="32.4" lengthAdjust="spacingAndGlyphs">1.42740</text>
<text x="578.5" y="208.5" textLength="32.4" lengthAdjust="spacingAndGlyphs">1.41040</text>
<text x="578.5" y="241.5" textLength="32.4" lengthAdjust="spacingAndGlyphs">1.39390</text>
<text x="578.5" y="274.5" textLength="32.4" lengthAdjust="spacingAndGlyphs">1.37690</text>
<text x="578.5" y="307.5" textLength="32.4" lengthAdjust="spacingAndGlyphs">1.36040</text>
<text x="578.5" y="340.5" textLength="32.4" lengthAdjust="spacingAndGlyphs">1.34340</text>
<text x="578.5" y="373.5" textLength="32.4" lengthAdjust="spacingAndGlyphs">1.32690</text>
<text x="578.5" y="439.5" textLength="32.4" lengthAdjust="spacingAndGlyphs">1.29340</text>
<text x="578.5" y="472.5" textLength="32.4" lengthAdjust="spacingAndGlyphs">1.27690</text>
<text x="576.7" y="484.6">100</text>
<text x="575.3" y="503.1">70</text>
<text x="575.3" y="519.1">50</text>
<text x="575.3" y="535.1">30</text>
<text x="576.7" y="553.4">0</text>
<text x="576.7" y="569.8">100</text>
<text x="575.3" y="580.1">80</text>
<text x="575.3" y="604.1">50</text>
<text x="575.3" y="628.1">20</text>
<text x="576.7" y="638.6">0</text>
<text x="576.5" y="654.4">0.014998</text>
<text x="576.5" y="676.2">0.00</text>
<text x="576.3" y="741.5">-0.038815</text>
<rect x="574" y="311" width="41" height="11" fill="#228b22" shape-rendering="crispEdges"/>
<text class="w" x="578.5" y="319.7" textLength="32.4" lengthAdjust="spacingAndGlyphs">1.35369</text>
<rect x="574" y="374" width="41" height="11" fill="#000" shape-rendering="crispEdges"/>
<text class="w" x="578.5" y="382.7" textLength="32.4" lengthAdjust="spacingAndGlyphs">1.32209</text>
<rect x="574" y="397" width="41" height="11" fill="#0000ff" shape-rendering="crispEdges"/>
<text class="w" x="578.5" y="405.7" textLength="32.4" lengthAdjust="spacingAndGlyphs">1.31000</text>
<rect x="574" y="455" width="41" height="11" fill="#ff0000" shape-rendering="crispEdges"/>
<text class="w" x="578.5" y="463.7" textLength="32.4" lengthAdjust="spacingAndGlyphs">1.28094</text>
<text x="2.3" y="757.6" textLength="49.6" lengthAdjust="spacingAndGlyphs">17 Jun 2016</text>
<text x="66.3" y="757.6" textLength="53.2" lengthAdjust="spacingAndGlyphs">22 Jun 12:00</text>
<text x="130.3" y="757.6" textLength="53.2" lengthAdjust="spacingAndGlyphs">27 Jun 04:00</text>
<text x="194.3" y="757.6" textLength="53.2" lengthAdjust="spacingAndGlyphs">29 Jun 20:00</text>
<text x="258.3" y="757.6" textLength="44.6" lengthAdjust="spacingAndGlyphs">4 Jul 12:00</text>
<text x="322.3" y="757.6" textLength="44.6" lengthAdjust="spacingAndGlyphs">7 Jul 04:00</text>
<text x="386.3" y="757.6" textLength="49.6" lengthAdjust="spacingAndGlyphs">11 Jul 20:00</text>
<g fill="none" stroke="#00a2e8" stroke-width="3" shape-rendering="crispEdges">
<rect x="455.5" y="303.5" width="34" height="26"/>
<rect x="445.5" y="447.5" width="40" height="22"/>
<rect x="423.5" y="492.5" width="45" height="35"/>
<rect x="419.5" y="597.5" width="46" height="41"/>
<rect x="398.5" y="650.5" width="62" height="42"/>
</g>
<g fill="#22b14c" stroke="#22b14c" stroke-linejoin="round" stroke-linecap="round">
<line x1="455.8" y1="365" x2="465" y2="333" stroke-width="3"/>
<path d="M471.6 315.3 L472.8 317.6 L470.2 325.2 L468.5 331.1 L466.1 338.4 L463.2 335.4 L460.3 334 L463.8 327.6 L466.7 321.7 L470.2 315.8 Z" stroke-width="1"/>
</g>
<g fill="#ed1c24" stroke="#ed1c24" stroke-linejoin="round" stroke-linecap="round">
<line x1="452.3" y1="406.5" x2="465" y2="462" stroke-width="3"/>
<line x1="454" y1="440.5" x2="465" y2="462.5" stroke-width="2.2"/>
<path d="M463.8 436.5 L461 437 L460 442 L465.8 464 Z" stroke-width="1"/>
</g>
</svg></body></html>
